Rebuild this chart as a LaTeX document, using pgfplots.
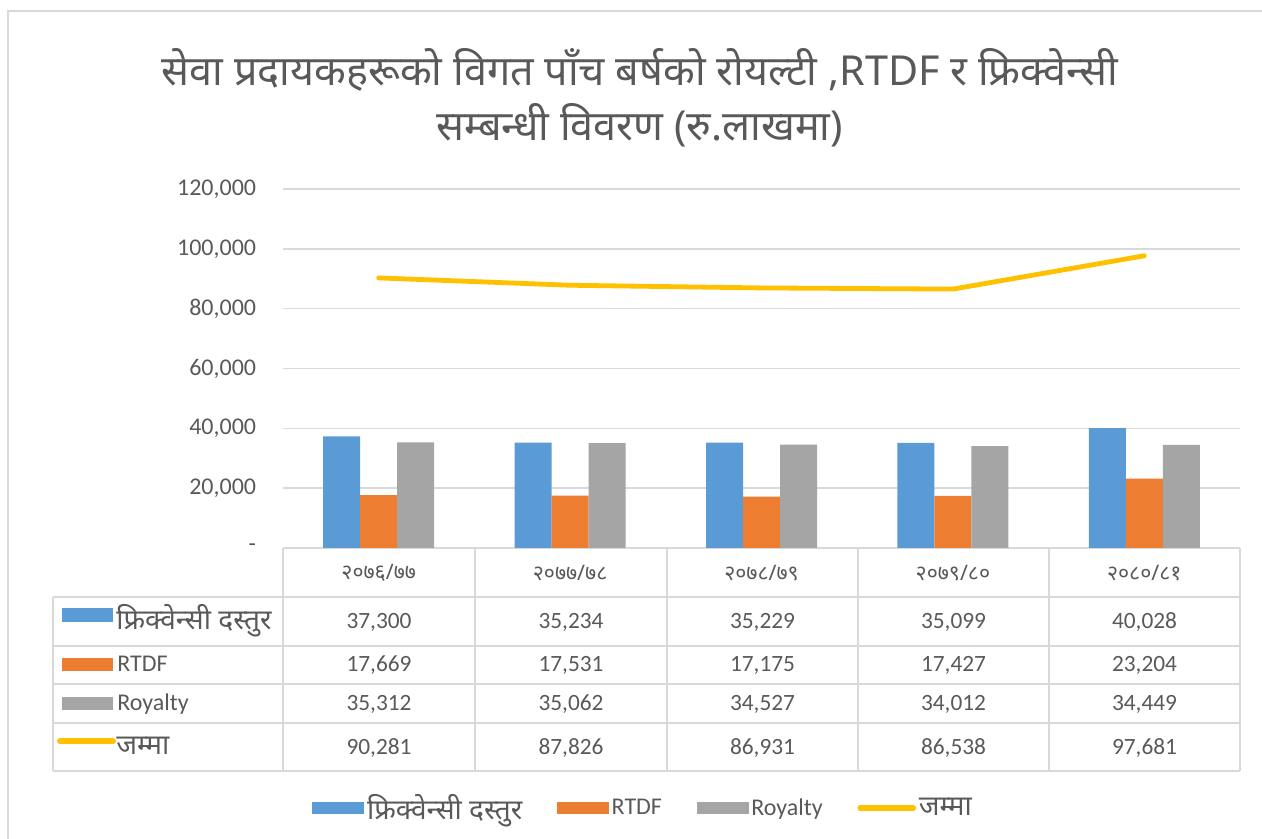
\documentclass[border=0pt]{standalone}
\usepackage{pgfplots}
\usepackage{pgfplotstable}
\pgfplotsset{compat=1.18}
\usepackage{fontspec}
\setmainfont{Carlito}
\newfontfamily\dev[Script=Devanagari]{Noto Sans}

\definecolor{blueC}{HTML}{5B9BD5}
\definecolor{orangeC}{HTML}{ED7D31}
\definecolor{grayC}{HTML}{A5A5A5}
\definecolor{yellowC}{HTML}{FFC000}
\definecolor{txt}{HTML}{595959}
\definecolor{gridC}{HTML}{D9D9D9}

% values (lakh rupees)
\pgfplotstableread{
x freq rtdf roy total
0 37300 17669 35312 90281
1 35234 17531 35062 87826
2 35229 17175 34527 86931
3 35099 17427 34012 86538
4 40028 23204 34449 97681
}\datatable

\pgfplotsset{
  mybar/.style={ybar, bar width=27.75pt, fill=#1, draw=none,
    legend image code/.code={\fill[#1] (0pt,-4.3pt) rectangle (39pt,4.3pt);}},
}
\newcommand\cellnum[1]{\pgfmathprintnumber[fixed, precision=0, assume math mode=true, 1000 sep={,}]{#1}}

\begin{document}
\begin{tikzpicture}
% pixel grid: 1px = 0.75pt, origin top left
\begin{scope}[x=0.75pt,y=-0.75pt,yshift=628.5pt]
  \path[use as bounding box] (0,0) rectangle (1262,838);
  \draw[gridC, line width=1.5pt] (8,900) -- (8,11) -- (1300,11);

  % title
  \node[anchor=base, text=txt, font=\dev\fontsize{31}{36}\selectfont] at (640,86)
    {सेवा प्रदायकहरूको विगत पाँच बर्षको रोयल्टी ,RTDF र फ्रिक्वेन्सी};
  \node[anchor=base, text=txt, font=\dev\fontsize{31}{36}\selectfont] at (640,141)
    {सम्बन्धी विवरण (रु.लाखमा)};

  % data table grid
  \begin{scope}[gridC, line width=1.3pt]
    \draw (283,548) -- (283,771);
    \foreach \xx in {475,667,858,1049,1240} \draw (\xx,548) -- (\xx,771);
    \draw (53,597) -- (53,771);
    \foreach \yy in {597,646,684,723,771} \draw (53,\yy) -- (1240,\yy);
  \end{scope}

  % row keys and labels
  \fill[blueC] (62,608) rectangle (113,622);
  \fill[orangeC] (62,658) rectangle (113,671);
  \fill[grayC] (62,697) rectangle (113,710);
  \draw[yellowC, line width=4.5pt, line cap=round] (60,741) -- (113,741);
  \begin{scope}[text=txt]
    \node[anchor=base west, inner sep=0pt, font=\dev\fontsize{21}{24}\selectfont] at (116,630) {फ्रिक्वेन्सी दस्तुर};
    \node[anchor=base west, inner sep=0pt, font=\fontsize{18}{20}\selectfont] at (117,672) {RTDF};
    \node[anchor=base west, inner sep=0pt, font=\fontsize{18}{20}\selectfont] at (117,711) {Royalty};
    \node[anchor=base west, inner sep=0pt, font=\dev\fontsize{21}{24}\selectfont] at (116,755) {जम्मा};
  \end{scope}

  % table values, read from the data table
  \begin{scope}[text=txt, font=\fontsize{17.5}{20}\selectfont]
    \foreach \r/\xx in {0/379,1/571,2/762.5,3/953.5,4/1144.5}{
      \pgfplotstablegetelem{\r}{freq}\of\datatable
      \node[anchor=base] at (\xx,629) {\cellnum{\pgfplotsretval}};
      \pgfplotstablegetelem{\r}{rtdf}\of\datatable
      \node[anchor=base] at (\xx,672) {\cellnum{\pgfplotsretval}};
      \pgfplotstablegetelem{\r}{roy}\of\datatable
      \node[anchor=base] at (\xx,711) {\cellnum{\pgfplotsretval}};
      \pgfplotstablegetelem{\r}{total}\of\datatable
      \node[anchor=base] at (\xx,754) {\cellnum{\pgfplotsretval}};
    }
  \end{scope}
\end{scope}

\begin{axis}[
  at={(212.25pt,217.5pt)}, anchor=south west,
  scale only axis,
  width=717.75pt, height=269.25pt,
  xmin=-0.5, xmax=4.5,
  ymin=0, ymax=120000,
  ytick={0,20000,40000,60000,80000,100000,120000},
  yticklabels={-,{20,000},{40,000},{60,000},{80,000},{100,000},{120,000}},
  scaled y ticks=false,
  xtick={0,1,2,3,4},
  xticklabels={२०७६/७७,२०७७/७८,२०७८/७९,२०७९/८०,२०८०/८१},
  xticklabel style={font=\dev\fontsize{16}{18}\selectfont, text=txt, anchor=center, yshift=-18.5pt},
  yticklabel style={font=\fontsize{18}{20}\selectfont, text=txt, anchor=east, inner sep=0pt, xshift=-20pt},
  major tick length=0pt,
  axis line style={draw=none},
  ymajorgrids, grid style={gridC, line width=1.2pt},
  clip=false,
  legend columns=4,
  legend style={at={(0.3767,-0.724)}, anchor=center, draw=none, fill=none,
    font=\fontsize{18}{20}\selectfont, text=txt,
    /tikz/every even column/.append style={column sep=24pt},
    nodes={inner xsep=2pt}},
]
\addplot[mybar=blueC, bar shift=-27.75pt] table[x=x,y=freq]{\datatable};
\addlegendentry{\dev\fontsize{21}{24}\selectfont फ्रिक्वेन्सी दस्तुर}
\addplot[mybar=orangeC, bar shift=0pt] table[x=x,y=rtdf]{\datatable};
\addlegendentry{RTDF}
\addplot[mybar=grayC, bar shift=27.75pt] table[x=x,y=roy]{\datatable};
\addlegendentry{Royalty}
\addplot[sharp plot, yellowC, line width=3.6pt, line cap=round, line join=round,
  legend image code/.code={\draw[yellowC, line width=4pt, line cap=round] (0pt,0pt) -- (40pt,0pt);}]
  table[x=x,y=total]{\datatable};
\addlegendentry{\dev\fontsize{21}{24}\selectfont जम्मा}
\end{axis}
\end{tikzpicture}
\end{document}
